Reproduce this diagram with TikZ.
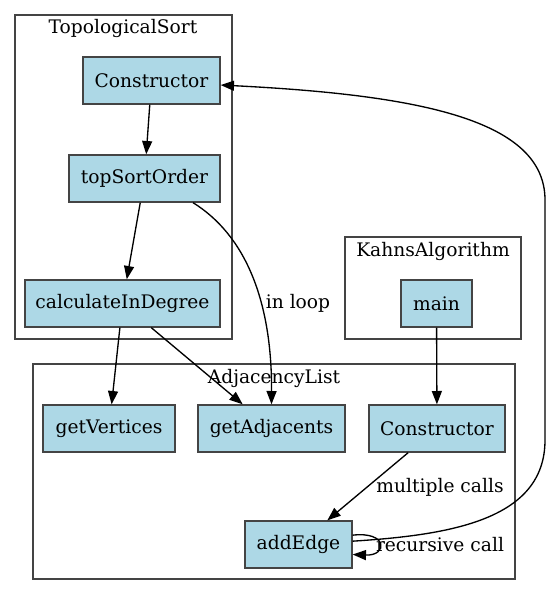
\documentclass[tikz,border=0pt]{standalone}
\usepackage{fontspec}
\setmainfont{DejaVu Serif}
\usetikzlibrary{arrows.meta}
\definecolor{boxblue}{HTML}{ADD8E6}
\definecolor{frame}{HTML}{444444}
\begin{document}
\begin{tikzpicture}[x=0.75pt,y=-0.75pt,line width=1pt,
  font=\fontsize{14pt}{16pt}\selectfont,
  fn/.style={draw=frame,fill=boxblue,minimum height=35.25pt,inner sep=0pt},
  cluster/.style={draw=frame},
  call/.style={-{Triangle[length=10pt,width=7.5pt]}}]
      \useasboundingbox (0,0) rectangle (551,596);
      % clusters
      \draw[cluster] (15,15) rectangle (232,339);
      \draw[cluster] (345,237) rectangle (521,339);
      \draw[cluster] (33,364) rectangle (515,579);
      \node (tsLabel) at (123,28) {TopologicalSort};
      \node (kaLabel) at (433,251) {KahnsAlgorithm};
      \node (alLabel) at (274,378) {AdjacencyList};
      % functions
      \node[fn,minimum width=102.75pt] (tsCtor) at (151.5,80.5) {Constructor};
      \node[fn,minimum width=113.25pt] (topSort) at (144.5,178.5) {topSortOrder};
      \node[fn,minimum width=146.25pt] (calcIn) at (122.5,303.5) {calculateInDegree};
      \node[fn,minimum width=53.25pt] (main) at (436.5,303.5) {main};
      \node[fn,minimum width=99pt] (getV) at (109,428.5) {getVertices};
      \node[fn,minimum width=110.25pt] (getA) at (271.5,428.5) {getAdjacents};
      \node[fn,minimum width=102pt] (alCtor) at (437,428.5) {Constructor};
      \node[fn,minimum width=80.25pt] (addEdge) at (298.5,544.5) {addEdge};
      % calls
      \draw[call] (tsCtor)--(topSort);
      \draw[call] (topSort)--(calcIn);
      \draw[call] (calcIn)--(getV);
      \draw[call] (calcIn)--(getA);
      \draw[call] ([xshift=36.4pt]topSort.south) .. controls (245,235) and (272,300) .. (getA.north);
      \draw[call] (main)--(alCtor);
      \draw[call] (alCtor)--(addEdge);
      \draw[call] ([yshift=7pt]addEdge.east) .. controls (388,531) and (388,556) .. ([yshift=-7.5pt]addEdge.east);
      \draw[call] ([yshift=2.5pt]addEdge.east) .. controls (450,535) and (545,520) .. (545,440)
        -- (545,200) .. controls (545,120) and (420,95) .. ([yshift=-3.4pt]tsCtor.east);
      % edge labels
      \node (loopLabel) at (298,303) {in loop};
      \node (multiLabel) at (440,487) {multiple calls};
      \node (recLabel) at (440,545) {recursive call};
\end{tikzpicture}
\end{document}
